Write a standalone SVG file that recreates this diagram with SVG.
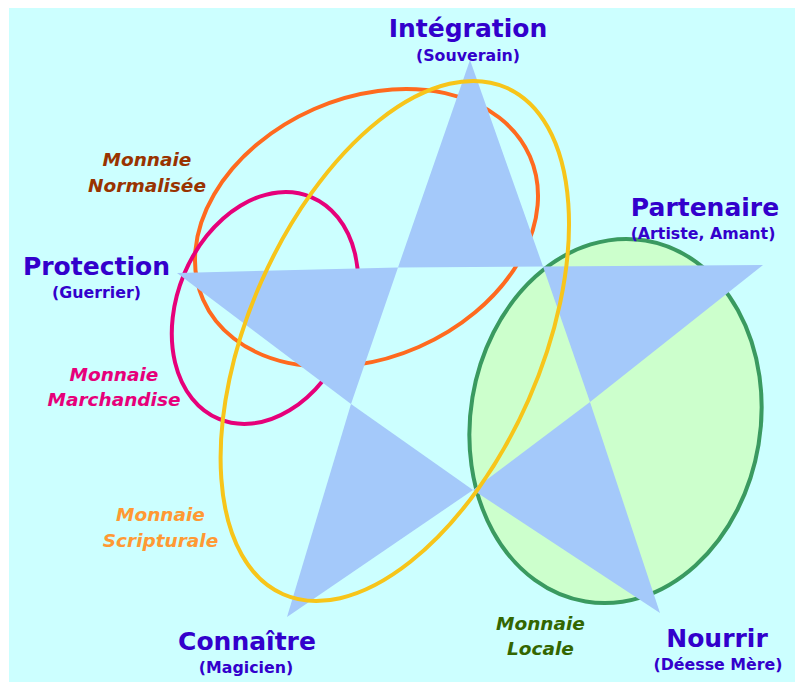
<svg xmlns="http://www.w3.org/2000/svg" width="795" height="682" viewBox="0 0 795 682">
<style>
.ring{fill:none;stroke-width:4}
.role{font-family:"DejaVu Sans","Verdana",sans-serif;font-weight:bold;fill:#3300CC;text-anchor:middle}
.big{font-size:25px}
.sub{font-size:15.8px}
.money{font-family:"DejaVu Sans","Verdana",sans-serif;font-weight:bold;font-style:italic;font-size:18.5px;text-anchor:middle}
</style>
<rect x="0" y="0" width="795" height="682" fill="#FFFFFF"/>
<rect id="background" x="9" y="8" width="786" height="674" fill="#CCFFFF"/>
<g id="currencies-under">
  <ellipse id="locale" cx="615.5" cy="421" rx="145" ry="183" transform="rotate(9.4 615.5 421)" fill="#CCFFCC" stroke="#3A9A60" stroke-width="4"/>
  <ellipse id="normalisee" class="ring" cx="366.5" cy="228" rx="178.4" ry="130" transform="rotate(-23.7 366.5 228)" stroke="#FF6A1F"/>
  <ellipse id="marchandise" class="ring" cx="265" cy="308" rx="87.7" ry="120.2" transform="rotate(22.6 265 308)" stroke="#E6007A"/>
</g>
<g id="star" fill="#A4C9FA">
  <polygon id="pt-integration" points="470,60 543,266.5 398,267.5"/>
  <polygon id="pt-partenaire" points="763,265 590,402 543,266.5"/>
  <polygon id="pt-nourrir" points="660,613 473,490 590,402"/>
  <polygon id="pt-connaitre" points="287,617 351,404 473,490"/>
  <polygon id="pt-protection" points="177,273 398,267.5 351,404"/>
</g>
<g id="currencies-over">
  <ellipse id="scripturale" class="ring" cx="394.8" cy="341" rx="146.1" ry="276.8" transform="rotate(23.8 394.8 341)" stroke="#F7C51A"/>
</g>
<g id="node-integration" class="role">
  <text class="big" x="468" y="37">Intégration</text>
  <text class="sub" x="468" y="61">(Souverain)</text>
</g>
<g id="node-protection" class="role">
  <text class="big" x="96.5" y="275">Protection</text>
  <text class="sub" x="96.5" y="298">(Guerrier)</text>
</g>
<g id="node-partenaire" class="role">
  <text class="big" x="705" y="216">Partenaire</text>
  <text class="sub" x="703" y="239">(Artiste, Amant)</text>
</g>
<g id="node-connaitre" class="role">
  <text class="big" x="247" y="650">Connaître</text>
  <text class="sub" x="246" y="673">(Magicien)</text>
</g>
<g id="node-nourrir" class="role">
  <text class="big" x="717" y="647">Nourrir</text>
  <text class="sub" x="718" y="670">(Déesse Mère)</text>
</g>
<g id="label-normalisee" class="money" fill="#993300">
  <text x="147" y="166">Monnaie</text>
  <text x="147" y="192">Normalisée</text>
</g>
<g id="label-marchandise" class="money" fill="#E6007A">
  <text x="114" y="381">Monnaie</text>
  <text x="114" y="406">Marchandise</text>
</g>
<g id="label-scripturale" class="money" fill="#FF9933">
  <text x="160.5" y="521">Monnaie</text>
  <text x="160.5" y="547">Scripturale</text>
</g>
<g id="label-locale" class="money" fill="#336600">
  <text x="540.5" y="630">Monnaie</text>
  <text x="540.5" y="655">Locale</text>
</g>
</svg>
